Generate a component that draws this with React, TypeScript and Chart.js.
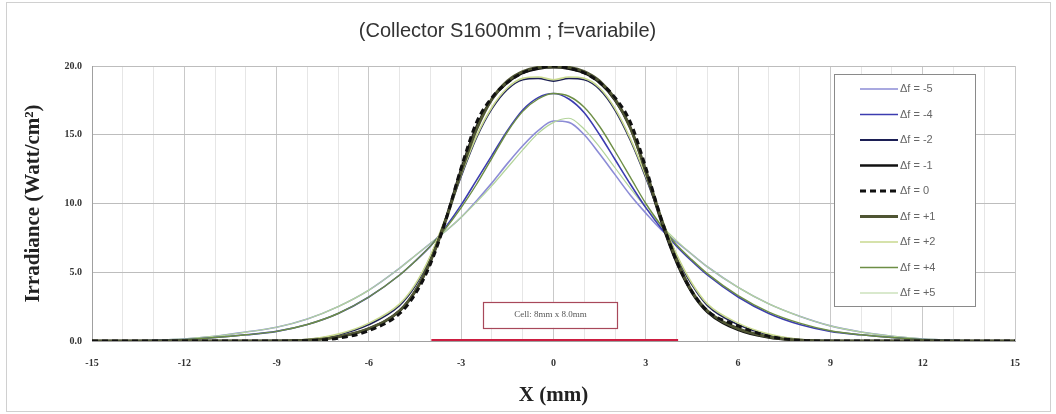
import React, { useEffect, useRef } from "react";
import { Chart, registerables } from "chart.js";

Chart.register(...registerables);

const titleText = "(Collector S1600mm ; f=variabile)";
const yTitle = "Irradiance (Watt/cm²)";
const xTitle = "X (mm)";

const xValues = [-15, -14, -13, -12, -11, -10, -9, -8, -7, -6, -5, -4.5, -4, -3.5, -3, -2.5, -2, -1.5, -1, -0.5, 0, 0.5, 1, 1.5, 2, 2.5, 3, 3.5, 4, 4.5, 5, 6, 7, 8, 9, 10, 11, 12, 13, 14, 15];

const dfM5 = [0, 0.02, 0.06, 0.15, 0.35, 0.65, 1.0, 1.6, 2.5, 3.7, 5.3, 6.2, 7.1, 8.0, 9.0, 10.2, 11.5, 12.9, 14.2, 15.3, 16.0, 15.9, 15.0, 13.6, 12.1, 10.6, 9.3, 8.1, 7.2, 6.3, 5.4, 3.9, 2.7, 1.8, 1.1, 0.65, 0.35, 0.15, 0.06, 0.02, 0];
const dfM4 = [0, 0, 0.03, 0.1, 0.25, 0.45, 0.7, 1.2, 2.0, 3.2, 4.8, 5.8, 6.9, 8.3, 9.9, 11.7, 13.5, 15.3, 16.8, 17.7, 18.0, 17.6, 16.6, 15.0, 13.2, 11.4, 9.7, 8.2, 6.9, 5.8, 4.8, 3.2, 2.0, 1.2, 0.7, 0.45, 0.25, 0.1, 0.03, 0, 0];
const dfM2 = [0, 0, 0, 0, 0, 0, 0.02, 0.1, 0.45, 1.2, 2.6, 4.0, 6.1, 8.9, 12.0, 14.8, 16.9, 18.3, 19.0, 19.1, 18.9, 19.1, 19.0, 18.3, 16.8, 14.6, 11.9, 8.9, 6.2, 4.1, 2.6, 1.2, 0.45, 0.1, 0.02, 0, 0, 0, 0, 0, 0];
const dfM1 = [0, 0, 0, 0, 0, 0, 0, 0.05, 0.3, 0.9, 2.2, 3.6, 5.8, 8.9, 12.5, 15.6, 17.6, 18.8, 19.5, 19.8, 19.9, 19.8, 19.5, 18.8, 17.5, 15.5, 12.3, 8.7, 5.7, 3.5, 2.1, 0.8, 0.25, 0.05, 0, 0, 0, 0, 0, 0, 0];
const df0 = [0, 0, 0, 0, 0, 0, 0, 0.02, 0.2, 0.75, 2.0, 3.4, 5.6, 8.8, 12.6, 15.9, 17.7, 18.8, 19.5, 19.85, 20.0, 19.85, 19.5, 18.8, 17.7, 15.9, 12.6, 8.9, 5.8, 3.6, 2.2, 1.1, 0.35, 0.05, 0, 0, 0, 0, 0, 0, 0];
const dfP1 = [0, 0, 0, 0, 0, 0, 0, 0.05, 0.3, 0.9, 2.2, 3.6, 5.8, 8.8, 12.3, 15.4, 17.6, 18.9, 19.6, 19.9, 19.95, 19.9, 19.6, 18.9, 17.6, 15.5, 12.4, 8.9, 5.9, 3.6, 2.2, 0.9, 0.3, 0.05, 0, 0, 0, 0, 0, 0, 0];
const dfP2 = [0, 0, 0, 0, 0, 0, 0.02, 0.12, 0.5, 1.3, 2.7, 4.1, 6.2, 9.0, 12.1, 14.9, 17.0, 18.4, 19.1, 19.2, 19.0, 19.2, 19.1, 18.4, 16.9, 14.7, 12.0, 9.0, 6.3, 4.2, 2.7, 1.3, 0.5, 0.12, 0.02, 0, 0, 0, 0, 0, 0];
const dfP4 = [0, 0, 0.03, 0.1, 0.25, 0.45, 0.7, 1.2, 2.0, 3.2, 4.8, 5.8, 6.9, 8.2, 9.7, 11.4, 13.3, 15.2, 16.7, 17.6, 18.0, 17.8, 17.0, 15.6, 13.8, 11.9, 10.0, 8.4, 7.0, 5.9, 4.9, 3.3, 2.1, 1.3, 0.75, 0.45, 0.25, 0.1, 0.03, 0, 0];
const dfP5 = [0, 0.02, 0.06, 0.15, 0.35, 0.65, 1.0, 1.6, 2.5, 3.7, 5.3, 6.2, 7.1, 8.0, 9.0, 10.1, 11.3, 12.6, 13.9, 15.1, 15.9, 16.2, 15.4, 14.1, 12.6, 11.1, 9.7, 8.4, 7.3, 6.3, 5.4, 3.9, 2.7, 1.8, 1.1, 0.65, 0.35, 0.15, 0.06, 0.02, 0];

const seriesLabels = ["Δf = -5", "Δf = -4", "Δf = -2", "Δf = -1", "Δf = 0", "Δf = +1", "Δf = +2", "Δf = +4", "Δf = +5"];
const seriesValues = [dfM5, dfM4, dfM2, dfM1, df0, dfP1, dfP2, dfP4, dfP5];

const cellRange = [-3.97, 4.05];
const cellLabel = "Cell: 8mm x 8.0mm";
const cellLabelPos = { x: -0.1, y: 1.9 };

const yTickValues = [0, 5, 10, 15, 20];

const seriesStyles = [
  { color: "#8c8cd6", width: 1.6, dash: [] as number[], order: 9 },
  { color: "#3c3cb0", width: 1.6, dash: [] as number[], order: 7 },
  { color: "#1c1f55", width: 1.8, dash: [] as number[], order: 5 },
  { color: "#111111", width: 2.4, dash: [] as number[], order: 3 },
  { color: "#111111", width: 3, dash: [6, 4], order: 1 },
  { color: "#4f5533", width: 3, dash: [] as number[], order: 2 },
  { color: "#c9d98f", width: 1.6, dash: [] as number[], order: 4 },
  { color: "#6d8e45", width: 1.4, dash: [] as number[], order: 6 },
  { color: "#b3d49b", width: 1.2, dash: [] as number[], order: 8 },
];

const decorPlugin = {
  id: "decor",
  beforeDraw(chart: any) {
    const { ctx, width, height } = chart;
    ctx.save();
    ctx.fillStyle = "#ffffff";
    ctx.fillRect(0, 0, width, height);
    ctx.strokeStyle = "#d0d0d0";
    ctx.lineWidth = 1;
    ctx.strokeRect(6.5, 2.5, width - 12, height - 5);
    ctx.restore();
  },
  afterDatasetsDraw(chart: any) {
    const { ctx, chartArea, scales } = chart;
    const xs = scales.x;
    const ys = scales.y;
    ctx.save();
    // cell label box
    const cx = xs.getPixelForValue(cellLabelPos.x);
    const cy = ys.getPixelForValue(cellLabelPos.y);
    const bw = 134;
    const bh = 26;
    ctx.fillStyle = "#ffffff";
    ctx.fillRect(cx - bw / 2, cy - bh / 2, bw, bh);
    ctx.strokeStyle = "#a8485a";
    ctx.lineWidth = 1.2;
    ctx.strokeRect(Math.round(cx - bw / 2) + 0.5, Math.round(cy - bh / 2) + 0.5, bw, bh);
    ctx.fillStyle = "#555555";
    ctx.font = "9px 'Liberation Serif'";
    ctx.textAlign = "center";
    ctx.textBaseline = "middle";
    ctx.fillText(cellLabel, cx, cy);

    // legend
    const lx = chartArea.right - 181;
    const ly = 74;
    const lw = 141;
    const lh = 232;
    ctx.fillStyle = "#ffffff";
    ctx.fillRect(lx, ly, lw, lh);
    ctx.strokeStyle = "#8a8a8a";
    ctx.lineWidth = 1;
    ctx.strokeRect(lx + 0.5, ly + 0.5, lw, lh);
    ctx.font = "11px 'Liberation Sans'";
    ctx.textAlign = "left";
    ctx.textBaseline = "middle";
    seriesLabels.forEach((lab, i) => {
      const st = seriesStyles[i];
      const y = ly + 15 + i * 25.5;
      ctx.strokeStyle = st.color;
      ctx.lineWidth = st.width;
      ctx.setLineDash(st.dash);
      ctx.beginPath();
      ctx.moveTo(lx + 26, y);
      ctx.lineTo(lx + 64, y);
      ctx.stroke();
      ctx.setLineDash([]);
      ctx.fillStyle = "#666666";
      ctx.fillText(lab, lx + 66, y);
    });
    ctx.restore();
  },
};

export default function App() {
  const ref = useRef<HTMLCanvasElement | null>(null);

  useEffect(() => {
    document.body.style.margin = "0";
    const canvas = ref.current;
    if (!canvas) return;

    const datasets: any[] = seriesLabels.map((lab, i) => ({
      label: lab,
      data: xValues.map((x, j) => ({ x, y: seriesValues[i][j] })),
      borderColor: seriesStyles[i].color,
      borderWidth: seriesStyles[i].width,
      borderDash: seriesStyles[i].dash,
      pointRadius: 0,
      fill: false,
      cubicInterpolationMode: "monotone",
      order: seriesStyles[i].order,
    }));
    datasets.push({
      label: "cell",
      data: cellRange.map((x) => ({ x, y: 0 })),
      borderColor: "#cc1d40",
      borderWidth: 4,
      pointRadius: 0,
      fill: false,
      order: 0,
    });

    const chart = new Chart(canvas, {
      type: "line",
      data: { datasets },
      plugins: [decorPlugin],
      options: {
        animation: false,
        responsive: false,
        maintainAspectRatio: false,
        layout: { padding: { top: 10, right: 41, bottom: 0, left: 0 } },
        plugins: {
          legend: { display: false },
          tooltip: { enabled: false },
          title: {
            display: true,
            text: titleText,
            color: "#333333",
            font: { family: "'Liberation Sans'", size: 20, weight: "normal" },
            padding: { top: 9, bottom: 23 },
          },
        },
        scales: {
          x: {
            type: "linear",
            min: -15,
            max: 15,
            afterFit: (s: any) => {
              s.height = 73;
            },
            afterBuildTicks: (s: any) => {
              const t = [];
              for (let v = -15; v <= 15; v++) t.push({ value: v });
              s.ticks = t;
            },
            ticks: {
              autoSkip: false,
              maxRotation: 0,
              padding: 16,
              color: "#333333",
              font: { family: "'Liberation Serif'", size: 10, weight: "bold" },
              callback: (v: any) => (Number(v) % 3 === 0 ? String(v) : ""),
            },
            grid: {
              drawTicks: false,
              color: (c: any) => (c.tick && c.tick.value % 3 === 0 ? "#c9c9c9" : "#e6e6e6"),
              lineWidth: 1,
            },
            border: { display: true, color: "#a0a0a0" },
            title: {
              display: true,
              text: xTitle,
              color: "#222222",
              font: { family: "'Liberation Serif'", size: 21, weight: "bold" },
              padding: { top: 0, bottom: 6 },
            },
          },
          y: {
            type: "linear",
            min: 0,
            max: 20,
            afterFit: (s: any) => {
              s.width = 92;
            },
            afterBuildTicks: (s: any) => {
              s.ticks = yTickValues.map((v) => ({ value: v }));
            },
            ticks: {
              padding: 10,
              color: "#333333",
              font: { family: "'Liberation Serif'", size: 10, weight: "bold" },
              callback: (v: any) => Number(v).toFixed(1),
            },
            grid: { drawTicks: false, color: "#bdbdbd", lineWidth: 1 },
            border: { display: true, color: "#a0a0a0" },
            title: {
              display: true,
              text: yTitle,
              color: "#222222",
              font: { family: "'Liberation Serif'", size: 21, weight: "bold" },
              padding: { top: 21, bottom: 0 },
            },
          },
        },
      },
    });
    return () => chart.destroy();
  }, []);

  return (
    <div style={{ position: "fixed", left: 0, top: 0, width: 1056, height: 414, background: "#fff" }}>
      <canvas ref={ref} width={1056} height={414} style={{ width: 1056, height: 414, display: "block" }} />
    </div>
  );
}
